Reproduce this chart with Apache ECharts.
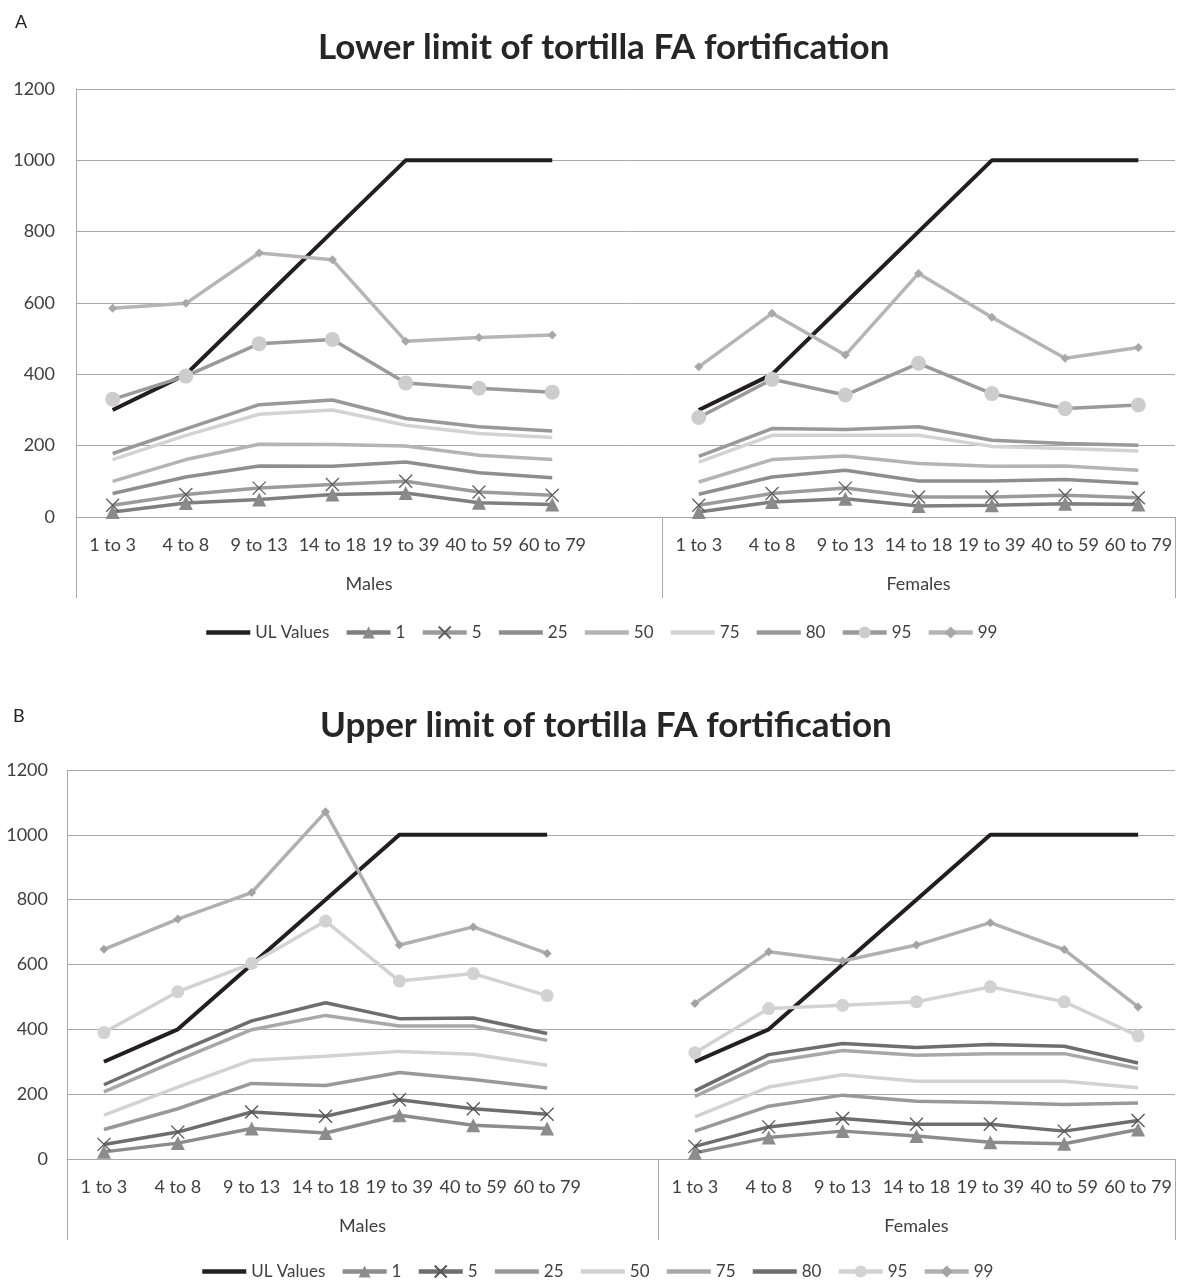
<!DOCTYPE html>
<html>
<head>
<meta charset="utf-8">
<script src="https://cdn.jsdelivr.net/npm/echarts@6/dist/echarts.min.js"></script>
<style>
  html, body { margin: 0; padding: 0; background: #fff; }
  .chart { width: 1177px; height: 640px; }
</style>
</head>
<body>
<div id="chartA" class="chart"></div>
<div id="chartB" class="chart"></div>
<script>
// age groups, shown once for males and once for females
const ageGroups = ['1 to 3', '4 to 8', '9 to 13', '14 to 18', '19 to 39', '40 to 59', '60 to 79']
const groups = ['Males', 'Females']
const seriesNames = ['UL Values', '1', '5', '25', '50', '75', '80', '95', '99']
const yTicks = [0, 200, 400, 600, 800, 1000, 1200]

// A: lower limit (7 males then 7 females)
const aUL = [300, 400, 600, 800, 1000, 1000, 1000, 300, 400, 600, 800, 1000, 1000, 1000]
const aP1 = [14, 39, 49, 63, 67, 40, 35, 14, 42, 51, 31, 33, 37, 35]
const aP5 = [33, 63, 81, 91, 100, 70, 61, 33, 66, 81, 56, 56, 61, 54]
const aP25 = [66, 112, 143, 142, 154, 124, 110, 64, 112, 131, 101, 101, 105, 94]
const aP50 = [100, 161, 204, 203, 199, 173, 161, 98, 161, 171, 150, 142, 143, 131]
const aP75 = [161, 229, 288, 300, 257, 234, 223, 154, 229, 229, 229, 198, 192, 185]
const aP80 = [178, 247, 315, 328, 276, 253, 241, 170, 248, 245, 253, 215, 206, 201]
const aP95 = [330, 395, 486, 498, 376, 361, 350, 279, 386, 342, 431, 346, 304, 314]
const aP99 = [585, 599, 740, 721, 493, 503, 510, 421, 571, 454, 683, 560, 445, 475]

// B: upper limit
const bUL = [300, 400, 600, 800, 1000, 1000, 1000, 300, 400, 600, 800, 1000, 1000, 1000]
const bP1 = [22, 49, 94, 80, 135, 104, 94, 19, 66, 86, 71, 52, 47, 91]
const bP5 = [45, 83, 145, 132, 183, 155, 138, 39, 99, 125, 107, 107, 86, 119]
const bP25 = [91, 155, 233, 227, 267, 245, 219, 86, 163, 197, 178, 174, 168, 173]
const bP50 = [135, 222, 305, 317, 332, 323, 289, 130, 222, 260, 240, 240, 240, 220]
const bP75 = [207, 305, 399, 443, 410, 410, 366, 193, 299, 335, 320, 325, 325, 279]
const bP80 = [229, 330, 426, 482, 433, 435, 387, 210, 322, 356, 344, 353, 348, 296]
const bP95 = [390, 516, 603, 734, 549, 572, 504, 328, 464, 474, 485, 531, 485, 380]
const bP99 = [647, 740, 822, 1071, 660, 716, 634, 480, 639, 611, 660, 729, 646, 469]

const FONT = 'Lato'
const TXT = '#404040'
const GRIDC = '#a9a9a9'
const xMark = 'path://M0,0L10,10M10,0L0,10'

// empty slot between males and females, so the lines break there
const categories = [...ageGroups, '', ...ageGroups]
const withGap = arr => [...arr.slice(0, 7), null, ...arr.slice(7)]

const makeSeries = (name, values, st) => ({
	name: name,
	type: 'line',
	data: withGap(values),
	symbol: st.symbol || 'none',
	symbolSize: st.size || 10,
	showSymbol: !!st.symbol,
	lineStyle: { color: st.color, width: st.width || 3.5 },
	itemStyle: {
		color: st.mark || st.color,
		borderColor: st.border || st.mark || st.color,
		borderWidth: st.borderWidth || 0
	},
	emphasis: { disabled: true },
	animation: false
})

// legend entries: series without markers get no marker in the legend
const legendData = (series) => series.map(s => ({
	name: s.name,
	itemStyle: s.showSymbol ? undefined : { opacity: 0 }
}))

const buildOption = (p) => ({
	animation: false,
	title: [
		{ text: p.letter, left: p.letterLeft, top: p.letterTop, textStyle: { fontFamily: FONT, fontSize: 18, fontWeight: 'normal', color: '#222' } },
		{ text: p.title, left: p.titleLeft, top: p.titleTop, textStyle: { fontFamily: FONT, fontSize: 35, fontWeight: 'bold', color: '#262626' } }
	],
	legend: {
		left: p.legendLeft,
		top: p.legendTop,
		padding: 0,
		itemWidth: 44,
		itemHeight: 15,
		itemGap: 15,
		lineStyle: { width: 4.5 },
		textStyle: { fontFamily: FONT, fontSize: 17, color: TXT },
		data: legendData(p.series)
	},
	grid: { left: p.left, right: 2, top: p.top, bottom: p.bottom, containLabel: false },
	xAxis: [
		{
			type: 'category',
			data: categories,
			boundaryGap: true,
			axisLine: { show: true, lineStyle: { color: GRIDC, width: 1 } },
			axisTick: { show: false },
			axisLabel: { interval: 0, margin: 19, fontFamily: FONT, fontSize: 18, color: TXT }
		},
		{
			// second level: sex groups with divider lines below the axis
			type: 'value',
			position: 'bottom',
			min: -0.5,
			max: 14.5,
			axisLine: { show: false },
			splitLine: { show: false },
			axisTick: { show: true, customValues: [-0.5, 7.5, 14.5], length: 81, lineStyle: { color: GRIDC, width: 1 } },
			axisLabel: {
				customValues: [3.5, 11],
				formatter: v => (v < 7.5 ? groups[0] : groups[1]),
				margin: 58,
				fontFamily: FONT,
				fontSize: 18,
				color: TXT
			}
		}
	],
	yAxis: {
		type: 'value',
		min: 0,
		max: 1200,
		interval: 200,
		axisLine: { show: true, onZero: false, lineStyle: { color: GRIDC, width: 1 } },
		axisTick: { show: false },
		splitLine: { lineStyle: { color: GRIDC, width: 1 } },
		axisLabel: {
			margin: p.yMargin,
			fontFamily: FONT,
			fontSize: 18,
			color: TXT,
			formatter: v => (yTicks.includes(v) ? String(v) : '')
		}
	},
	series: p.series
})

const chartA = echarts.init(document.getElementById('chartA'))
chartA.setOption(buildOption({
	letter: 'A', letterLeft: 10, letterTop: 8,
	title: 'Lower limit of tortilla FA fortification', titleLeft: 313, titleTop: 25,
	legendLeft: 204, legendTop: 624,
	left: 76, top: 89, bottom: 123, yMargin: 21,
	series: [
		makeSeries(seriesNames[0], aUL, { color: '#231f20', width: 4 }),
		makeSeries(seriesNames[1], aP1, { color: '#7f7f7f', mark: '#8a8a8a', symbol: 'triangle', size: 14 }),
		makeSeries(seriesNames[2], aP5, { color: '#9b9b9b', mark: '#9b9b9b', border: '#5f5f5f', borderWidth: 1.3, symbol: xMark, size: 13 }),
		makeSeries(seriesNames[3], aP25, { color: '#8e8e8e' }),
		makeSeries(seriesNames[4], aP50, { color: '#b4b4b4' }),
		makeSeries(seriesNames[5], aP75, { color: '#d3d3d3' }),
		makeSeries(seriesNames[6], aP80, { color: '#999999' }),
		makeSeries(seriesNames[7], aP95, { color: '#9a9a9a', mark: '#cdcdcd', symbol: 'circle', size: 15 }),
		makeSeries(seriesNames[8], aP99, { color: '#b5b5b5', mark: '#a8a8a8', symbol: 'diamond', size: 9 })
	]
}))

const chartB = echarts.init(document.getElementById('chartB'))
chartB.setOption(buildOption({
	letter: 'B', letterLeft: 8, letterTop: 62,
	title: 'Upper limit of tortilla FA fortification', titleLeft: 315, titleTop: 63,
	legendLeft: 200, legendTop: 623,
	left: 67, top: 130, bottom: 121, yMargin: 19,
	series: [
		makeSeries(seriesNames[0], bUL, { color: '#231f20', width: 4 }),
		makeSeries(seriesNames[1], bP1, { color: '#8c8c8c', mark: '#8c8c8c', symbol: 'triangle', size: 14 }),
		makeSeries(seriesNames[2], bP5, { color: '#6e6e6e', mark: '#6e6e6e', border: '#555555', borderWidth: 1.3, symbol: xMark, size: 13 }),
		makeSeries(seriesNames[3], bP25, { color: '#999999' }),
		makeSeries(seriesNames[4], bP50, { color: '#d2d2d2' }),
		makeSeries(seriesNames[5], bP75, { color: '#a8a8a8' }),
		makeSeries(seriesNames[6], bP80, { color: '#6e6e6e' }),
		makeSeries(seriesNames[7], bP95, { color: '#d2d2d2', mark: '#d2d2d2', symbol: 'circle', size: 13 }),
		makeSeries(seriesNames[8], bP99, { color: '#b0b0b0', mark: '#a3a3a3', symbol: 'diamond', size: 9 })
	]
}))
</script>
</body>
</html>
